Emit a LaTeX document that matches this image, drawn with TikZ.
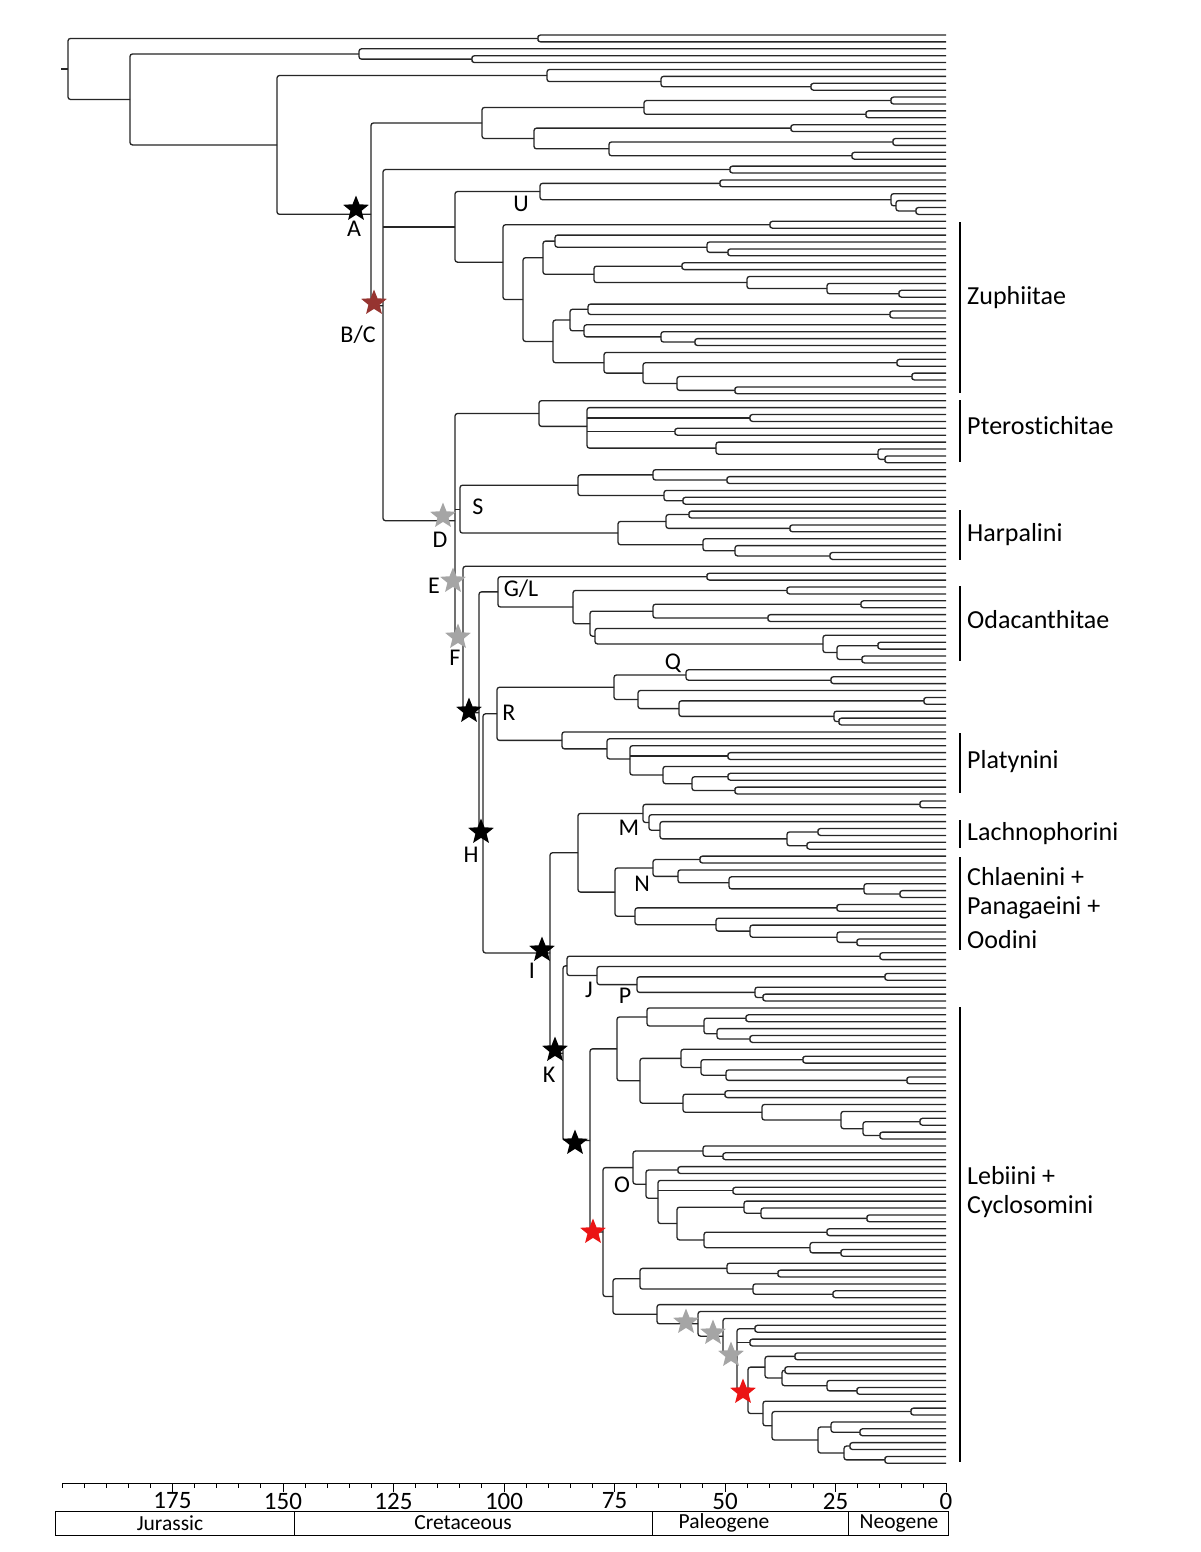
\documentclass[tikz,border=0pt]{standalone}
\usepackage{fontspec}
\setmainfont{Carlito}[Ligatures=NoCommon]
\usetikzlibrary{shapes.geometric}
\definecolor{sgrey}{RGB}{165,165,165}
\definecolor{bcred}{RGB}{150,52,48}
\definecolor{sred}{RGB}{235,20,20}
\newdimen\tya \newdimen\tyb \newdimen\tyc \newdimen\tyd
\newcommand\nd[4]{%
  \pgfextracty{\tya}{\pgfpointanchor{#3}{center}}%
  \pgfextracty{\tyb}{\pgfpointanchor{#4}{center}}%
  \pgfmathsetlength{\tyc}{(\tya+\tyb)/2}%
  \coordinate (#1) at (#2pt,\the\tyc);%
  \draw[br] (#3) -| (#1) |- (#4);%
}
\newcommand\ndt[5]{%
  \pgfextracty{\tya}{\pgfpointanchor{#3}{center}}%
  \pgfextracty{\tyb}{\pgfpointanchor{#4}{center}}%
  \pgfextracty{\tyd}{\pgfpointanchor{#5}{center}}%
  \pgfmathsetlength{\tyc}{(\tya+\tyb+\tyd)/3}%
  \coordinate (#1) at (#2pt,\the\tyc);%
  \draw[br] (#3) -| (#1) |- (#5);%
  \draw[br] (#4) -- (#4 -| #1);%
}
\newcommand\ndq[6]{%
  \pgfextracty{\tya}{\pgfpointanchor{#3}{center}}%
  \pgfextracty{\tyb}{\pgfpointanchor{#4}{center}}\advance\tya by \tyb
  \pgfextracty{\tyb}{\pgfpointanchor{#5}{center}}\advance\tya by \tyb
  \pgfextracty{\tyb}{\pgfpointanchor{#6}{center}}\advance\tya by \tyb
  \tyc=0.25\tya
  \coordinate (#1) at (#2pt,\the\tyc);%
  \draw[br] (#3) -| (#1) |- (#6);%
  \draw[br] (#4) -- (#4 -| #1);%
  \draw[br] (#5) -- (#5 -| #1);%
}
\begin{document}
\begin{tikzpicture}[x=1pt,y=-1pt,
  br/.style={draw=black!85,line width=1.3pt,rounded corners=2.5pt},
  mystar/.style={star,star points=5,star point ratio=2.3,inner sep=0pt,minimum size=27pt,draw=none},
  lab/.style={font=\fontsize{24}{28}\selectfont,inner sep=0pt},
  clab/.style={font=\fontsize{26}{30}\selectfont,inner sep=0pt,anchor=west},
  axlab/.style={font=\fontsize{25}{28}\selectfont,inner sep=0pt},
  perlab/.style={font=\fontsize{21.5}{24}\selectfont,inner sep=0pt},
  cladebar/.style={line width=2.6pt,black},
  axisline/.style={line width=1pt,black}]
\useasboundingbox (0,0) rectangle (1200,1552);
\fill[white] (0,0) rectangle (1200,1552);
% tips
\foreach \i in {0,...,207}{\coordinate (t\i) at (946,{35+6.9*\i});}
% top clades
\nd{a1}{538}{t0}{t1}
\nd{a2}{472}{t3}{t4}
\nd{a3}{359}{t2}{a2}
\nd{a4}{811}{t7}{t8}
\nd{a5}{661}{t6}{a4}
\nd{a6}{547}{t5}{a5}
\nd{b1}{891}{t9}{t10}
\nd{b2}{866}{t11}{t12}
\nd{b3}{644}{b1}{b2}
\nd{b4}{791}{t13}{t14}
\nd{b5}{893}{t15}{t16}
\nd{b6}{852}{t17}{t18}
\nd{b7}{609}{b5}{b6}
\nd{b8}{534}{b4}{b7}
\nd{b9}{482}{b3}{b8}
\nd{c1}{730}{t19}{t20}
% U
\nd{u1}{720}{t21}{t22}
\nd{u2}{916}{t25}{t26}
\nd{u3}{896}{t24}{u2}
\nd{u4}{891}{t23}{u3}
\nd{u5}{540}{u1}{u4}
% Zuphiitae
\nd{z1}{770}{t27}{t28}
\nd{z2}{728}{t31}{t32}
\nd{z3}{707}{t30}{z2}
\nd{z4}{555}{t29}{z3}
\nd{z5}{682}{t33}{t34}
\nd{z6}{899}{t37}{t38}
\nd{z7}{827}{t36}{z6}
\nd{z8}{747}{t35}{z7}
\nd{z9}{594}{z5}{z8}
\nd{z10}{543}{z4}{z9}
\nd{z11}{890}{t40}{t41}
\nd{z12}{588}{t39}{z11}
\nd{z13}{695}{t44}{t45}
\nd{z14}{661}{t43}{z13}
\nd{z15}{584}{t42}{z14}
\nd{z16}{570}{z12}{z15}
\nd{z17}{897}{t47}{t48}
\nd{z18}{912}{t49}{t50}
\nd{z19}{735}{t51}{t52}
\nd{z20}{677}{z18}{z19}
\nd{z21}{643}{z17}{z20}
\nd{z22}{604}{t46}{z21}
\nd{z23}{553}{z16}{z22}
\nd{z24}{523}{z10}{z23}
\nd{z25}{503}{z1}{z24}
\nd{u6}{455}{u5}{z25}
% Pterostichitae
\nd{p1}{750}{t55}{t56}
\nd{p2}{675}{t57}{t58}
\nd{p3}{885}{t61}{t62}
\nd{p4}{878}{t60}{p3}
\nd{p5}{716}{t59}{p4}
\ndq{p6}{587}{t54}{p1}{p2}{p5}
\nd{p7}{539}{t53}{p6}
% S / Harpalini
\nd{s1}{727}{t64}{t65}
\nd{s2}{653}{t63}{s1}
\nd{s3}{683}{t67}{t68}
\nd{s4}{664}{t66}{s3}
\nd{s5}{578}{s2}{s4}
\nd{s6}{689}{t69}{t70}
\nd{s7}{790}{t71}{t72}
\nd{s8}{666}{s6}{s7}
\nd{s9}{830}{t75}{t76}
\nd{s10}{735}{t74}{s9}
\nd{s11}{703}{t73}{s10}
\nd{s12}{618}{s8}{s11}
\nd{s13}{460}{s5}{s12}
% G/L
\nd{g1}{707}{t78}{t79}
\nd{g2}{787}{t80}{t81}
\nd{g3}{861}{t82}{t83}
\nd{g4}{768}{t84}{t85}
\nd{g5}{653}{g3}{g4}
\nd{g6}{878}{t88}{t89}
\nd{g7}{862}{t90}{t91}
\nd{g8}{837}{g6}{g7}
\nd{g9}{823}{t87}{g8}
\nd{g10}{595}{t86}{g9}
\nd{g11}{590}{g5}{g10}
\nd{g12}{573}{g2}{g11}
\nd{g13}{498}{g1}{g12}
% R
\nd{r1}{831}{t93}{t94}
\nd{r2}{686}{t92}{r1}
\nd{r3}{924}{t96}{t97}
\nd{r4}{839}{t99}{t100}
\nd{r5}{834}{t98}{r4}
\nd{r6}{679}{r3}{r5}
\nd{r7}{638}{t95}{r6}
\nd{r8}{614}{r2}{r7}
\nd{r9}{728}{t104}{t105}
\nd{r10}{728}{t107}{t108}
\nd{r11}{735}{t109}{t110}
\nd{r12}{692}{r10}{r11}
\nd{r13}{663}{t106}{r12}
\ndt{r14}{630}{t103}{r9}{r13}
\nd{r15}{607}{t102}{r14}
\nd{r16}{562}{t101}{r15}
\nd{r17}{497}{r8}{r16}
% M
\nd{m1}{920}{t111}{t112}
\nd{m2}{818}{t115}{t116}
\nd{m3}{807}{t117}{t118}
\nd{m4}{787}{m2}{m3}
\nd{m5}{660}{t114}{m4}
\nd{m6}{649}{t113}{m5}
\nd{m7}{643}{m1}{m6}
% N
\nd{k1}{700}{t119}{t120}
\nd{k2}{900}{t124}{t125}
\nd{k3}{864}{t123}{k2}
\nd{k4}{729}{t122}{k3}
\nd{k5}{678}{t121}{k4}
\nd{k6}{653}{k1}{k5}
\nd{k7}{837}{t126}{t127}
\nd{k8}{857}{t131}{t132}
\nd{k9}{837}{t130}{k8}
\nd{k10}{750}{t129}{k9}
\nd{k11}{716}{t128}{k10}
\nd{k12}{635}{k7}{k11}
\nd{k13}{615}{k6}{k12}
\nd{mn}{578}{m7}{k13}
% J / P
\nd{j1}{880}{t133}{t134}
\nd{j2}{885}{t136}{t137}
\nd{j3}{763}{t139}{t140}
\nd{j4}{755}{t138}{j3}
\nd{j5}{637}{j2}{j4}
\nd{j6}{597}{t135}{j5}
\nd{j7}{567}{j1}{j6}
% Lebiini + Cyclosomini
\nd{l1}{746}{t142}{t143}
\nd{l2}{750}{t145}{t146}
\nd{l3}{717}{t144}{l2}
\nd{l4}{704}{l1}{l3}
\nd{l5}{647}{t141}{l4}
\nd{l6}{803}{t148}{t149}
\nd{l7}{907}{t151}{t152}
\nd{l8}{726}{t150}{l7}
\nd{l9}{701}{l6}{l8}
\nd{l10}{681}{t147}{l9}
\nd{l11}{725}{t153}{t154}
\nd{l12}{920}{t157}{t158}
\nd{l13}{880}{t159}{t160}
\nd{l14}{863}{l12}{l13}
\nd{l15}{841}{t156}{l14}
\nd{l16}{762}{t155}{l15}
\nd{l17}{683}{l11}{l16}
\nd{l18}{640}{l10}{l17}
\nd{l19}{617}{l5}{l18}
\nd{o1}{723}{t162}{t163}
\nd{o2}{703}{t161}{o1}
\nd{o3}{678}{t164}{t165}
\nd{o4}{733}{t167}{t168}
\nd{o5}{867}{t171}{t172}
\nd{o6}{761}{t170}{o5}
\nd{o7}{744}{t169}{o6}
\nd{o8}{827}{t173}{t174}
\nd{o9}{841}{t176}{t177}
\nd{o10}{810}{t175}{o9}
\nd{o11}{704}{o8}{o10}
\nd{o12}{677}{o7}{o11}
\ndt{o13}{658}{t166}{o4}{o12}
\nd{o14}{646}{o3}{o13}
\nd{o15}{633}{o2}{o14}
\nd{q1}{778}{t179}{t180}
\nd{q2}{727}{t178}{q1}
\nd{q3}{833}{t182}{t183}
\nd{q4}{753}{t181}{q3}
\nd{q5}{640}{q2}{q4}
\nd{q6}{755}{t187}{t188}
\nd{q7}{750}{t189}{t190}
\nd{q8}{795}{t191}{t192}
\nd{q9}{785}{t193}{t194}
\nd{q10}{857}{t196}{t197}
\nd{q11}{827}{t195}{q10}
\nd{q12}{782}{q9}{q11}
\nd{q13}{765}{q8}{q12}
\nd{q14}{911}{t199}{t200}
\nd{q15}{860}{t202}{t203}
\nd{q16}{831}{t201}{q15}
\nd{q17}{850}{t204}{t205}
\nd{q18}{885}{t206}{t207}
\nd{q19}{844}{q17}{q18}
\nd{q20}{818}{q16}{q19}
\nd{q21}{772}{q14}{q20}
\nd{q22}{763}{t198}{q21}
\nd{q23}{748}{q13}{q22}
\ndt{q24}{737}{q6}{q7}{q23}
\nd{q25}{723}{t186}{q24}
\nd{q26}{698}{t185}{q25}
\nd{q27}{657}{t184}{q26}
\nd{q28}{613}{q5}{q27}
\nd{q29}{603}{o15}{q28}
\nd{q30}{590}{l19}{q29}
% backbone
\nd{kk}{563}{j7}{q30}
\nd{ii}{550}{mn}{kk}
\nd{hh}{483}{r17}{ii}
\nd{xx}{479}{g13}{hh}
\nd{ee}{463}{t77}{xx}
\ndt{dd}{455}{p7}{s13}{ee}
\ndt{bc}{383}{c1}{u6}{dd}
\nd{aa}{371}{b9}{bc}
\nd{n277}{277}{a6}{aa}
\nd{n130}{130}{a3}{n277}
\nd{root}{68}{a1}{n130}
\draw[br] (root) -- ++(-7,0) coordinate (rootstub);
% stars
\node[mystar,fill=black] (sA) at (356,209) {};
\node[mystar,fill=bcred] (sBC) at (374,303) {};
\node[mystar,fill=sgrey] (sD) at (443,516) {};
\node[mystar,fill=sgrey] (sE) at (453,581) {};
\node[mystar,fill=sgrey] (sF) at (458,637) {};
\node[mystar,fill=black] (sX) at (469,711) {};
\node[mystar,fill=black] (sH) at (481,832) {};
\node[mystar,fill=black] (sI) at (542,950) {};
\node[mystar,fill=black] (sK) at (555,1050) {};
\node[mystar,fill=black] (sL) at (575,1143) {};
\node[mystar,fill=sred] (sR1) at (593,1232) {};
\node[mystar,fill=sgrey] (sg1) at (686,1322) {};
\node[mystar,fill=sgrey] (sg2) at (713,1333) {};
\node[mystar,fill=sgrey] (sg3) at (731,1355) {};
\node[mystar,fill=sred] (sR2) at (743,1392) {};
% star labels
\node[lab] (lA) at (354,229) {A};
\node[lab] (lBC) at (358,335) {B/C};
\node[lab] (lD) at (440,540) {D};
\node[lab] (lE) at (434,586) {E};
\node[lab] (lF) at (455,658) {F};
\node[lab] (lH) at (471,855) {H};
\node[lab] (lI) at (532,971) {I};
\node[lab] (lK) at (549,1075) {K};
% node letters
\node[lab] (lU) at (521,204) {U};
\node[lab] (lS) at (478,507) {S};
\node[lab] (lGL) at (521,589) {G/L};
\node[lab] (lQ) at (673,663) {Q};
\node[lab] (lR) at (509,713) {R};
\node[lab] (lM) at (629,828) {M};
\node[lab] (lN) at (642,884) {N};
\node[lab] (lJ) at (589,990) {J};
\node[lab] (lP) at (625,996) {P};
\node[lab] (lO) at (622,1185) {O};
% clade bars and names
\draw[cladebar] (960,222) -- (960,393);
\draw[cladebar] (960,400) -- (960,462);
\draw[cladebar] (960,510) -- (960,560);
\draw[cladebar] (960,586) -- (960,661);
\draw[cladebar] (960,733) -- (960,793);
\draw[cladebar] (960,820) -- (960,848);
\draw[cladebar] (960,857) -- (960,950);
\draw[cladebar] (960,1007) -- (960,1462);
\node[clab] (cZ) at (967,298) {Zuphiitae};
\node[clab] (cPt) at (967,426) {Pterostichitae};
\node[clab] (cH) at (967,535) {Harpalini};
\node[clab] (cO) at (967,620) {Odacanthitae};
\node[clab] (cPl) at (967,762) {Platynini};
\node[clab] (cL) at (967,834) {Lachnophorini};
\node[clab] (cC1) at (967,877) {Chlaenini +};
\node[clab] (cC2) at (967,908) {Panagaeini +};
\node[clab] (cC3) at (967,940) {Oodini};
\node[clab] (cLe1) at (967,1176) {Lebiini +};
\node[clab] (cLe2) at (967,1207) {Cyclosomini};
% axis
\draw[axisline] (62,1483) coordinate (ax0) -- (946,1483) coordinate (ax1);
\foreach \m in {0,5,...,200}{\draw[axisline] ({946-4.42*\m},1483) -- ++(0,5);}
\foreach \m in {0,25,...,175}{\draw[axisline] ({946-4.42*\m},1483) -- ++(0,9);
  \node[axlab] (al\m) at ({946-4.42*\m},1501) {\m};}
% periods
\draw[axisline] (55,1511) rectangle (948,1535);
\draw[axisline] (294,1511) -- (294,1535);
\draw[axisline] (652,1511) -- (652,1535);
\draw[axisline] (848,1511) -- (848,1535);
\node[perlab] (pJ) at (170,1523) {Jurassic};
\node[perlab] (pC) at (463,1523) {Cretaceous};
\node[perlab] (pP) at (724,1523) {Paleogene};
\node[perlab] (pN) at (899,1523) {Neogene};
\end{tikzpicture}
\end{document}
